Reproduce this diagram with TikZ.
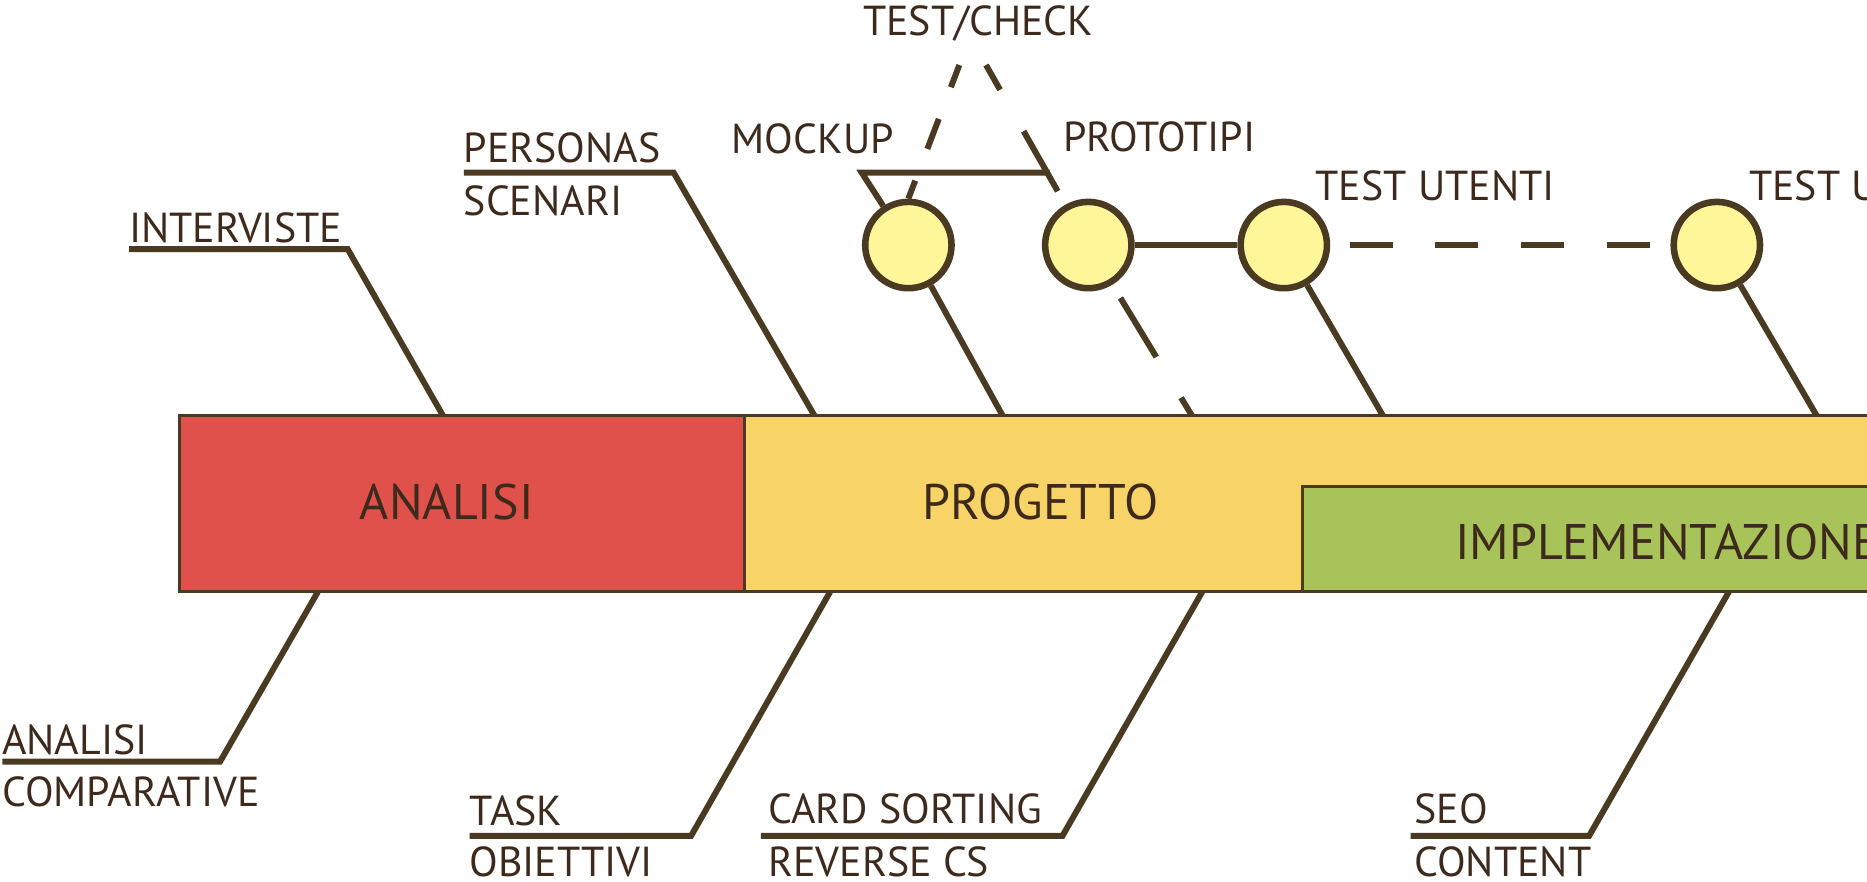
\documentclass[tikz,border=0pt]{standalone}
\usepackage{fontspec}
\setmainfont{PT Sans}
\definecolor{ink}{HTML}{4A3A22}
\definecolor{txt}{HTML}{3D2A1C}
\definecolor{phasered}{HTML}{E0514C}
\definecolor{phaseyel}{HTML}{F8D468}
\definecolor{phasegrn}{HTML}{A8C35A}
\definecolor{dotfill}{HTML}{FFF599}
\begin{document}
\begin{tikzpicture}[x=0.5pt,y=-0.5pt,
  lbl/.style={font=\fontsize{17.6pt}{20pt}\selectfont, text=txt, anchor=base west, inner sep=0pt, outer sep=0pt},
  phasetxt/.style={font=\fontsize{21pt}{24pt}\selectfont, text=txt, anchor=base west, inner sep=0pt, outer sep=0pt},
  wire/.style={draw=ink, line width=2.5pt, line join=miter},
  bar/.style={draw=ink, line width=1.25pt},
  dot/.style={circle, draw=ink, fill=dotfill, line width=2.75pt, minimum size=36.25pt, inner sep=0pt},
  gapdash/.style={wire, dash pattern=on 29pt off 20pt, dash phase=42.5pt},
  testdash/.style={wire, dash pattern=on 18pt off 18pt, dash phase=27.85pt},
  checkdash/.style={wire, dash pattern=on 13.5pt off 14.25pt, dash phase=3.55pt}
]
\useasboundingbox (0,0) rectangle (1568,740);
\clip (0,0) rectangle (1568,740);

% phase bars
\fill[phasered] (151,349) rectangle (625,497);
\fill[phaseyel] (625,349) rectangle (1620,497);
\draw[bar] (1620,349) -- (151,349) -- (151,497) -- (1620,497);
\draw[bar] (625,349) -- (625,497);
\draw[bar, fill=phasegrn] (1620,408.7) -- (1093.5,408.7) -- (1093.5,497) -- (1620,497);

\node[phasetxt] (analisi) at (302.3,436) {ANALISI};
\node[phasetxt] (progetto) at (775,436) {PROGETTO};
\node[phasetxt] (implem) at (1222,470.3) {IMPLEMENTAZIONE};

% attachment points on the bar edges
\coordinate (bInt) at (372,349);
\coordinate (bPers) at (684,349);
\coordinate (bMock) at (842,349);
\coordinate (bProt) at (1001,349);
\coordinate (bTest) at (1161.4,349);
\coordinate (bTest2) at (1525.7,349);
\coordinate (bAnal) at (267,497);
\coordinate (bTask) at (697.2,497);
\coordinate (bCard) at (1009.7,497);
\coordinate (bSeo) at (1452,497);

% upper labels with underline leaders
\node[lbl] (interviste) at (108.4,203.8) {INTERVISTE};
\coordinate (uIntL) at (108.4,209.2);
\coordinate (uIntR) at (292,209.2);
\draw[wire] (uIntL) -- (uIntR) -- (bInt);

\node[lbl] (personas) at (389.5,136.3) {PERSONAS};
\node[lbl] (scenari) at (389.5,181) {SCENARI};
\coordinate (uPerL) at (389.5,145);
\coordinate (uPerR) at (565.8,145);
\draw[wire] (uPerL) -- (uPerR) -- (bPers);

% lower labels with underline leaders
\node[lbl] (analisilbl) at (1.9,633.3) {ANALISI};
\node[lbl] (comparative) at (1.9,677.5) {COMPARATIVE};
\coordinate (uAnaL) at (1.9,639.7);
\coordinate (uAnaR) at (184.8,639.7);
\draw[wire] (uAnaL) -- (uAnaR) -- (bAnal);

\node[lbl] (task) at (394.4,693) {TASK};
\node[lbl] (obiettivi) at (394.4,736.5) {OBIETTIVI};
\coordinate (uTaskL) at (394.4,702);
\coordinate (uTaskR) at (580.4,702);
\draw[wire] (uTaskL) -- (uTaskR) -- (bTask);

\node[lbl] (card) at (645.4,692) {CARD SORTING};
\node[lbl] (reverse) at (645.4,736.5) {REVERSE CS};
\coordinate (uCardL) at (639,702);
\coordinate (uCardR) at (892.3,702);
\draw[wire] (uCardL) -- (uCardR) -- (bCard);

\node[lbl] (seo) at (1187.8,692) {SEO};
\node[lbl] (content) at (1187.8,736.5) {CONTENT};
\coordinate (uSeoL) at (1184.7,702);
\coordinate (uSeoR) at (1334.6,702);
\draw[wire] (uSeoL) -- (uSeoR) -- (bSeo);

% test milestones
\node[dot] (p1) at (762.9,205.8) {};
\node[dot] (p2) at (914,205.8) {};
\node[dot] (p3) at (1078.2,205.8) {};
\node[dot] (p4) at (1441.9,205.8) {};

\node[lbl] (mockup) at (614.5,128.8) {MOCKUP};
\node[lbl] (prototipi) at (893,127.4) {PROTOTIPI};
\node[lbl] (testcheck) at (725,30.2) {TEST/CHECK};
\node[lbl] (testutenti) at (1105,168) {TEST UTENTI};
\node[lbl] (testutenti2) at (1469,168) {TEST UTENTI};

\coordinate (tcL) at (805.7,54.6);
\coordinate (tcR) at (828.1,54.6);
\coordinate (brL) at (723.7,145);
\coordinate (brR) at (881.5,145);

\draw[wire] (p1) -- (bMock);
\draw[wire] (p3) -- (bTest);
\draw[wire] (p4) -- (bTest2);
\draw[wire] (p2) -- (p3);
\draw[testdash] (p3) -- (p4);
\draw[gapdash] (p2) -- (bProt);
\draw[gapdash] (p2) -- (tcR);
\draw[checkdash] (tcL) -- (p1.north);
\draw[wire] (p1) -- (brL) -- (brR);
\end{tikzpicture}
\end{document}
